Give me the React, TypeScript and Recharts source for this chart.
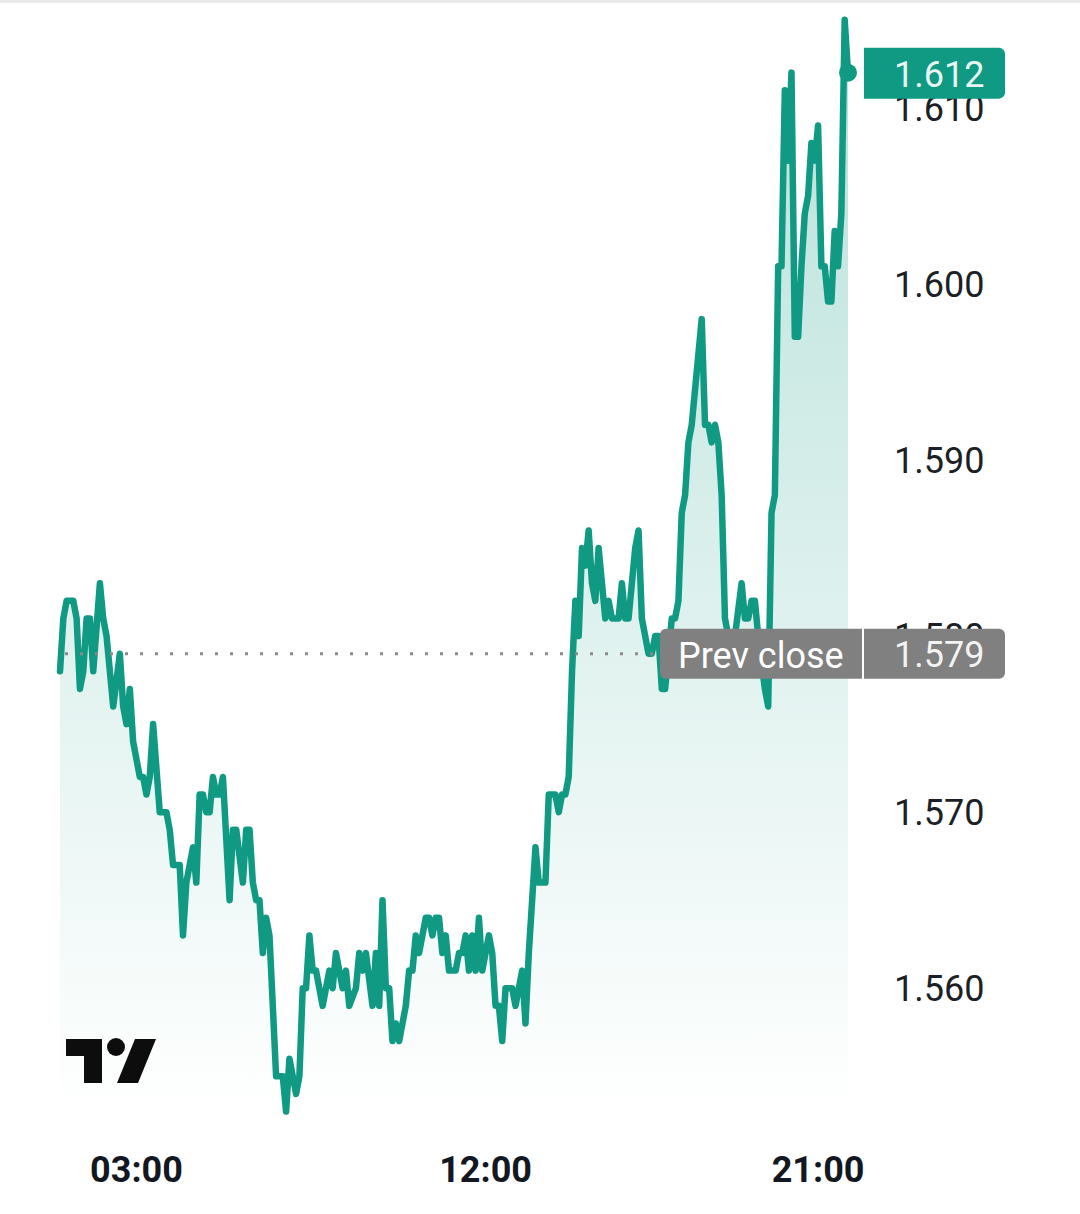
import React from 'react';
import { AreaChart, Area, XAxis, YAxis, ReferenceLine, ReferenceDot } from 'recharts';

// bar number of each turning point (session gaps make the ticks uneven)
const bars = [
  0, 1, 2, 4, 5, 6, 7, 8, 9, 10, 12, 13, 14, 16, 18, 19, 20, 21, 22, 24,
  25, 26, 27, 28, 30, 32, 33, 34, 36, 37, 38, 40, 41, 42, 43, 44, 45, 46, 47, 48,
  49, 51, 52, 53, 55, 56, 57, 58, 59, 60, 61, 62, 63, 65, 67, 68, 69, 71, 72, 73,
  74, 75, 76, 77, 79, 81, 82, 83, 85, 86, 87, 89, 90, 91, 92, 94, 95, 96, 97, 98,
  99, 100, 101, 102, 104, 105, 106, 107, 108, 110, 111, 112, 113, 114, 115, 116, 117, 119, 120, 121,
  122, 123, 124, 125, 126, 127, 129, 130, 131, 132, 133, 134, 136, 137, 139, 140, 141, 142, 143, 144,
  146, 147, 149, 150, 151, 152, 153, 154, 155, 156, 157, 158, 159, 160, 161, 162, 164, 165, 166, 168,
  169, 170, 171, 173, 174, 175, 177, 178, 179, 180, 181, 182, 184, 185, 186, 187, 188, 189, 190, 193,
  194, 195, 196, 197, 198, 199, 200, 201, 202, 203, 205, 206, 207, 208, 209, 210, 212, 213, 214, 215,
  216, 217, 218, 219, 220, 221, 222, 223, 224, 225, 226, 227, 228, 229, 230, 231, 232, 233, 234, 235,
  236, 237,
];

const prices = [
  1.578, 1.581, 1.582, 1.582, 1.581, 1.577, 1.578, 1.581, 1.581, 1.578, 1.583, 1.581, 1.58, 1.576, 1.579, 1.576, 1.575, 1.577, 1.574, 1.572,
  1.572, 1.571, 1.572, 1.575, 1.57, 1.57, 1.569, 1.567, 1.567, 1.563, 1.566, 1.568, 1.566, 1.571, 1.571, 1.57, 1.57, 1.572, 1.571, 1.571,
  1.572, 1.565, 1.569, 1.569, 1.566, 1.569, 1.569, 1.566, 1.565, 1.565, 1.562, 1.564, 1.563, 1.555, 1.555, 1.553, 1.556, 1.554, 1.555, 1.56,
  1.56, 1.563, 1.561, 1.561, 1.559, 1.561, 1.56, 1.562, 1.56, 1.561, 1.559, 1.56, 1.562, 1.561, 1.562, 1.559, 1.562, 1.559, 1.565, 1.56,
  1.56, 1.557, 1.558, 1.557, 1.559, 1.561, 1.561, 1.563, 1.562, 1.564, 1.564, 1.563, 1.564, 1.564, 1.562, 1.563, 1.561, 1.561, 1.562, 1.562,
  1.563, 1.561, 1.563, 1.561, 1.564, 1.561, 1.563, 1.562, 1.559, 1.559, 1.557, 1.56, 1.56, 1.559, 1.561, 1.558, 1.562, 1.565, 1.568, 1.566,
  1.566, 1.571, 1.571, 1.57, 1.571, 1.571, 1.572, 1.578, 1.582, 1.58, 1.585, 1.584, 1.586, 1.583, 1.582, 1.585, 1.581, 1.582, 1.581, 1.581,
  1.583, 1.581, 1.581, 1.585, 1.586, 1.581, 1.579, 1.579, 1.58, 1.58, 1.577, 1.577, 1.581, 1.581, 1.582, 1.587, 1.588, 1.591, 1.592, 1.598,
  1.592, 1.592, 1.591, 1.592, 1.591, 1.588, 1.581, 1.58, 1.578, 1.58, 1.583, 1.581, 1.581, 1.582, 1.582, 1.58, 1.577, 1.576, 1.587, 1.588,
  1.601, 1.601, 1.611, 1.607, 1.612, 1.597, 1.597, 1.601, 1.604, 1.605, 1.608, 1.607, 1.609, 1.601, 1.601, 1.599, 1.599, 1.603, 1.601, 1.604,
  1.615, 1.612,
];

const priceTicks = [1.56, 1.57, 1.58, 1.59, 1.6, 1.61];
const timeTicks = [23, 128, 228];
const timeLabels = ['03:00', '12:00', '21:00'];

const lastPrice = 1.612;
const prevClose = 1.579;
const lastBar = 237;
const priceDomain = [1.5528, 1.6155];

const data = bars.map((bar, i) => ({ bar, price: prices[i] }));

const GREEN = '#119a83';
const GREY = '#808080';
const FONT = 'Roboto, sans-serif';

const LastBadge = (props: any) => {
  const { cx, cy } = props;
  return (
    <g>
      <circle cx={cx} cy={cy} r={9} fill={GREEN} />
      <path
        d={`M${cx + 16} ${cy - 25} H${cx + 151} a6 6 0 0 1 6 6 V${cy + 20} a6 6 0 0 1 -6 6 H${cx + 16} Z`}
        fill={GREEN}
      />
      <text x={cx + 46} y={cy + 14} fontFamily={FONT} fontSize={36} fill="#ffffff" fillOpacity={0.92}>
        {lastPrice.toFixed(3)}
      </text>
    </g>
  );
};

const PrevCloseBadge = (props: any) => {
  const { cx, cy } = props;
  return (
    <g>
      <path
        d={`M${cx - 182} ${cy - 25} H${cx + 14} V${cy + 25} H${cx - 182} a6 6 0 0 1 -6 -6 V${cy - 19} a6 6 0 0 1 6 -6 Z`}
        fill={GREY}
      />
      <path
        d={`M${cx + 16} ${cy - 25} H${cx + 151} a6 6 0 0 1 6 6 V${cy + 19} a6 6 0 0 1 -6 6 H${cx + 16} Z`}
        fill={GREY}
      />
      <text x={cx - 170} y={cy + 14} fontFamily={FONT} fontSize={36} fill="#ffffff">
        Prev close
      </text>
      <text x={cx + 46} y={cy + 13} fontFamily={FONT} fontSize={36} fill="#ffffff" fillOpacity={0.92}>
        {prevClose.toFixed(3)}
      </text>
    </g>
  );
};

const App = () => {
  return (
    <div style={{ position: 'absolute', left: 0, top: 0, width: 1080, height: 1214, background: '#fff' }}>
      <div style={{ position: 'absolute', left: 0, top: 0, width: 1080, height: 3, background: '#e9e9e9' }} />
      <AreaChart width={1080} height={1214} data={data} margin={{ top: 11, right: 0, left: 60, bottom: 0 }}>
        <defs>
          <linearGradient id="priceFill" x1="0" y1="0" x2="0" y2="1">
            <stop offset="0%" stopColor={GREEN} stopOpacity={0.3} />
            <stop offset="100%" stopColor={GREEN} stopOpacity={0} />
          </linearGradient>
        </defs>
        <XAxis
          dataKey="bar"
          type="number"
          domain={[0, lastBar]}
          ticks={timeTicks}
          tickFormatter={(v: number) => timeLabels[timeTicks.indexOf(v)]}
          height={99}
          axisLine={false}
          tickLine={false}
          tickMargin={35}
          tick={{ fontFamily: FONT, fontSize: 36, fontWeight: 700, fill: '#131722' }}
        />
        <YAxis
          orientation="right"
          type="number"
          domain={priceDomain}
          ticks={priceTicks}
          tickFormatter={(v: number) => v.toFixed(3)}
          width={232}
          axisLine={false}
          tickLine={false}
          tickMargin={40}
          tick={{ fontFamily: FONT, fontSize: 36, fill: '#1c1f26', textAnchor: 'start' }}
        />
        <ReferenceLine y={prevClose} stroke="#8a8a8a" strokeWidth={3} strokeDasharray="3 12" />
        <Area
          type="linear"
          dataKey="price"
          stroke={GREEN}
          strokeWidth={6.5}
          strokeLinejoin="round"
          strokeLinecap="round"
          fill="url(#priceFill)"
          fillOpacity={1}
          dot={false}
          activeDot={false}
          isAnimationActive={false}
        />
      </AreaChart>
      {/* second layer so the price badges sit above the axis labels */}
      <div style={{ position: 'absolute', left: 0, top: 0 }}>
        <AreaChart width={1080} height={1214} data={data} margin={{ top: 11, right: 232, left: 60, bottom: 99 }}>
          <XAxis dataKey="bar" type="number" domain={[0, lastBar]} hide />
          <YAxis type="number" domain={priceDomain} hide />
          <Area
            type="linear"
            dataKey="price"
            stroke="none"
            fill="none"
            dot={false}
            activeDot={false}
            isAnimationActive={false}
          />
          <ReferenceDot x={lastBar} y={lastPrice} shape={LastBadge} />
          <ReferenceDot x={lastBar} y={prevClose} shape={PrevCloseBadge} />
        </AreaChart>
      </div>
      <svg width={100} height={56} style={{ position: 'absolute', left: 60, top: 1034 }}>
        <path d="M6 5 H42 V49 H24 V22 H6 Z" fill="#0d0d0d" />
        <circle cx={56} cy={13} r={9} fill="#0d0d0d" />
        <path d="M75 5 H96 L78 49 H57 Z" fill="#0d0d0d" />
      </svg>
    </div>
  );
};

export default App;
